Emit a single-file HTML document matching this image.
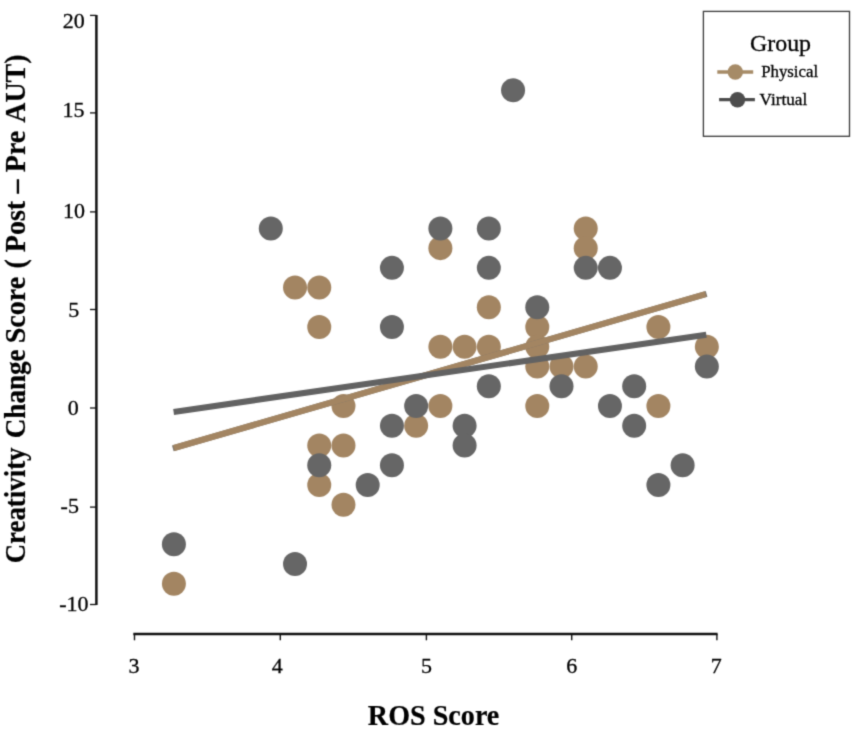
<!DOCTYPE html>
<html><head><meta charset="utf-8"><title>chart</title>
<style>
html,body{margin:0;padding:0;background:#fff;}
body{width:857px;height:736px;overflow:hidden;position:relative;font-family:"Liberation Serif",serif;}
svg{position:absolute;left:0;top:0;display:block;}
text{font-family:"Liberation Serif",serif;fill:#000;stroke:#000;stroke-width:0.3px;}
.tk{font-size:22px;}
.b{font-weight:bold;font-size:28px;fill:#000;stroke-width:0.2px;}
</style></head><body>
<svg width="857" height="736" viewBox="0 0 857 736">
<rect width="857" height="736" fill="#ffffff"/>
<defs><filter id="nf" x="-10" y="-10" width="877" height="756" filterUnits="userSpaceOnUse" color-interpolation-filters="sRGB"><feConvolveMatrix order="3" kernelMatrix="0.0256 0.1088 0.0256 0.1088 0.4624 0.1088 0.0256 0.1088 0.0256" divisor="1" edgeMode="duplicate" preserveAlpha="true"/></filter></defs><g id="all" filter="url(#nf)"><rect x="-5" y="-5" width="867" height="746" fill="#ffffff"/>
<g id="pts">
<circle cx="173.9" cy="583.71" r="12.0" fill="#A38562"/>
<circle cx="295.02" cy="287.61" r="12.0" fill="#A38562"/>
<circle cx="319.25" cy="287.61" r="12.0" fill="#A38562"/>
<circle cx="319.25" cy="327.09" r="12.0" fill="#A38562"/>
<circle cx="319.25" cy="445.53" r="12.0" fill="#A38562"/>
<circle cx="319.25" cy="485.01" r="12.0" fill="#A38562"/>
<circle cx="343.48" cy="406.05" r="12.0" fill="#A38562"/>
<circle cx="343.48" cy="445.53" r="12.0" fill="#A38562"/>
<circle cx="343.48" cy="504.75" r="12.0" fill="#A38562"/>
<circle cx="416.15" cy="425.79" r="12.0" fill="#A38562"/>
<circle cx="440.38" cy="248.13" r="12.0" fill="#A38562"/>
<circle cx="440.38" cy="346.83" r="12.0" fill="#A38562"/>
<circle cx="440.38" cy="406.05" r="12.0" fill="#A38562"/>
<circle cx="464.6" cy="346.83" r="12.0" fill="#A38562"/>
<circle cx="488.83" cy="307.35" r="12.0" fill="#A38562"/>
<circle cx="488.83" cy="346.83" r="12.0" fill="#A38562"/>
<circle cx="537.27" cy="327.09" r="12.0" fill="#A38562"/>
<circle cx="537.27" cy="346.83" r="12.0" fill="#A38562"/>
<circle cx="537.27" cy="366.57" r="12.0" fill="#A38562"/>
<circle cx="537.27" cy="406.05" r="12.0" fill="#A38562"/>
<circle cx="561.5" cy="366.57" r="12.0" fill="#A38562"/>
<circle cx="585.73" cy="228.39" r="12.0" fill="#A38562"/>
<circle cx="585.73" cy="248.13" r="12.0" fill="#A38562"/>
<circle cx="585.73" cy="366.57" r="12.0" fill="#A38562"/>
<circle cx="658.4" cy="327.09" r="12.0" fill="#A38562"/>
<circle cx="658.4" cy="406.05" r="12.0" fill="#A38562"/>
<circle cx="706.85" cy="346.83" r="12.0" fill="#A38562"/>
<circle cx="173.9" cy="544.23" r="12.0" fill="#666666"/>
<circle cx="295.02" cy="563.97" r="12.0" fill="#666666"/>
<circle cx="270.8" cy="228.39" r="12.0" fill="#666666"/>
<circle cx="319.25" cy="465.27" r="12.0" fill="#666666"/>
<circle cx="367.7" cy="485.01" r="12.0" fill="#666666"/>
<circle cx="391.93" cy="267.87" r="12.0" fill="#666666"/>
<circle cx="391.93" cy="327.09" r="12.0" fill="#666666"/>
<circle cx="391.93" cy="425.79" r="12.0" fill="#666666"/>
<circle cx="391.93" cy="465.27" r="12.0" fill="#666666"/>
<circle cx="416.15" cy="406.05" r="12.0" fill="#666666"/>
<circle cx="440.38" cy="228.39" r="12.0" fill="#666666"/>
<circle cx="464.6" cy="425.79" r="12.0" fill="#666666"/>
<circle cx="464.6" cy="445.53" r="12.0" fill="#666666"/>
<circle cx="488.83" cy="228.39" r="12.0" fill="#666666"/>
<circle cx="488.83" cy="267.87" r="12.0" fill="#666666"/>
<circle cx="488.83" cy="386.31" r="12.0" fill="#666666"/>
<circle cx="513.05" cy="90.21" r="12.0" fill="#666666"/>
<circle cx="537.27" cy="307.35" r="12.0" fill="#666666"/>
<circle cx="561.5" cy="386.31" r="12.0" fill="#666666"/>
<circle cx="585.73" cy="267.87" r="12.0" fill="#666666"/>
<circle cx="609.95" cy="267.87" r="12.0" fill="#666666"/>
<circle cx="609.95" cy="406.05" r="12.0" fill="#666666"/>
<circle cx="634.18" cy="386.31" r="12.0" fill="#666666"/>
<circle cx="634.18" cy="425.79" r="12.0" fill="#666666"/>
<circle cx="658.4" cy="485.01" r="12.0" fill="#666666"/>
<circle cx="682.62" cy="465.27" r="12.0" fill="#666666"/>
<circle cx="706.85" cy="366.57" r="12.0" fill="#666666"/>
</g>
<line x1="172.8" y1="448.36" x2="706.6" y2="293.87" stroke="#7d766c" stroke-width="6.1"/>
<line x1="173.9" y1="448.04" x2="705.5" y2="294.19" stroke="#A38562" stroke-width="6.1"/>
<line x1="173.6" y1="411.9" x2="706.3" y2="334.7" stroke="#626262" stroke-width="6.1"/>
<g stroke="#111" fill="none">
<line x1="96.4" y1="14.9" x2="96.4" y2="605" stroke-width="2.5"/>
<line x1="90" y1="15.4" x2="96.4" y2="15.4" stroke-width="1.3"/>
<line x1="90" y1="112.9" x2="96.4" y2="112.9" stroke-width="1.3"/>
<line x1="90" y1="211.9" x2="96.4" y2="211.9" stroke-width="1.3"/>
<line x1="90" y1="309.5" x2="96.4" y2="309.5" stroke-width="1.3"/>
<line x1="90" y1="408" x2="96.4" y2="408" stroke-width="1.3"/>
<line x1="90" y1="507.1" x2="96.4" y2="507.1" stroke-width="1.3"/>
<line x1="90" y1="604.5" x2="96.4" y2="604.5" stroke-width="1.3"/>
<line x1="133.3" y1="634" x2="717.6" y2="634" stroke-width="2.5"/>
<line x1="134.5" y1="634" x2="134.5" y2="640.3" stroke-width="1.4"/>
<line x1="280.3" y1="634" x2="280.3" y2="640.3" stroke-width="1.4"/>
<line x1="426.4" y1="634" x2="426.4" y2="640.3" stroke-width="1.4"/>
<line x1="571.7" y1="634" x2="571.7" y2="640.3" stroke-width="1.4"/>
<line x1="716.9" y1="634" x2="716.9" y2="640.3" stroke-width="1.4"/>
</g>
<text class="tk" x="62.8" y="27.5">20</text>
<text class="tk" x="62.4" y="117.0">15</text>
<text class="tk" x="63.0" y="218.0">10</text>
<text class="tk" x="68.2" y="317.0">5</text>
<text class="tk" x="67.8" y="414.8">0</text>
<text class="tk" x="60.6" y="513.1">-5</text>
<text class="tk" x="59.2" y="611.0">-10</text>
<text class="tk" x="134.1" y="672.6" text-anchor="middle">3</text>
<text class="tk" x="277.3" y="672.6" text-anchor="middle">4</text>
<text class="tk" x="426.5" y="672.6" text-anchor="middle">5</text>
<text class="tk" x="571.8" y="672.6" text-anchor="middle">6</text>
<text class="tk" x="716.3" y="672.6" text-anchor="middle">7</text>
<text class="b" transform="translate(433.6,725.2) scale(1.005,1.07)" text-anchor="middle">ROS Score</text>
<g transform="translate(24.9,562.7) rotate(-90) scale(1,1.06)">
<text class="b" id="yw_0" x="-0.6" y="0" transform="translate(-0.6,0) scale(0.959,1) translate(0.6,0)">Creativity</text>
<text class="b" id="yw_1" x="124.5" y="0" transform="translate(124.5,0) scale(0.968,1) translate(-124.5,0)">Change</text>
<text class="b" id="yw_2" x="219.5" y="0" transform="translate(219.5,0) scale(1.0,1) translate(-219.5,0)">Score</text>
<text class="b" id="yw_3" x="294.2" y="0" transform="translate(294.2,0) scale(1.0,1) translate(-294.2,0)">(</text>
<text class="b" id="yw_4" x="310.5" y="0" transform="translate(310.5,0) scale(1.0,1) translate(-310.5,0)">Post</text>
<text class="b" id="yw_5" x="369.3" y="0" transform="translate(369.3,0) scale(1.0,1) translate(-369.3,0)">–</text>
<text class="b" id="yw_6" x="390.5" y="0" transform="translate(390.5,0) scale(1.0,1) translate(-390.5,0)">Pre</text>
<text class="b" id="yw_7" x="439.9" y="0" transform="translate(439.9,0) scale(1.0,1) translate(-439.9,0)">AUT)</text>
</g>
<rect x="703.4" y="11.4" width="146.1" height="124.9" fill="#fff" stroke="#3a3a3a" stroke-width="1.3"/>
<text x="750.0" y="50.8" style="font-size:23.9px">Group</text>
<text x="761.2" y="77.3" style="font-size:16.8px">Physical</text>
<text x="759.6" y="104.8" style="font-size:17.2px">Virtual</text>
<line x1="717.3" y1="72" x2="753.2" y2="72" stroke="#A68B67" stroke-width="3.3"/><circle cx="735.3" cy="72" r="7.7" fill="#A68B67"/>
<line x1="719.1" y1="99.7" x2="754.9" y2="99.7" stroke="#4D4D4D" stroke-width="3.3"/><circle cx="737.5" cy="99.7" r="7.7" fill="#4D4D4D"/>
</g>
</svg></body></html>
